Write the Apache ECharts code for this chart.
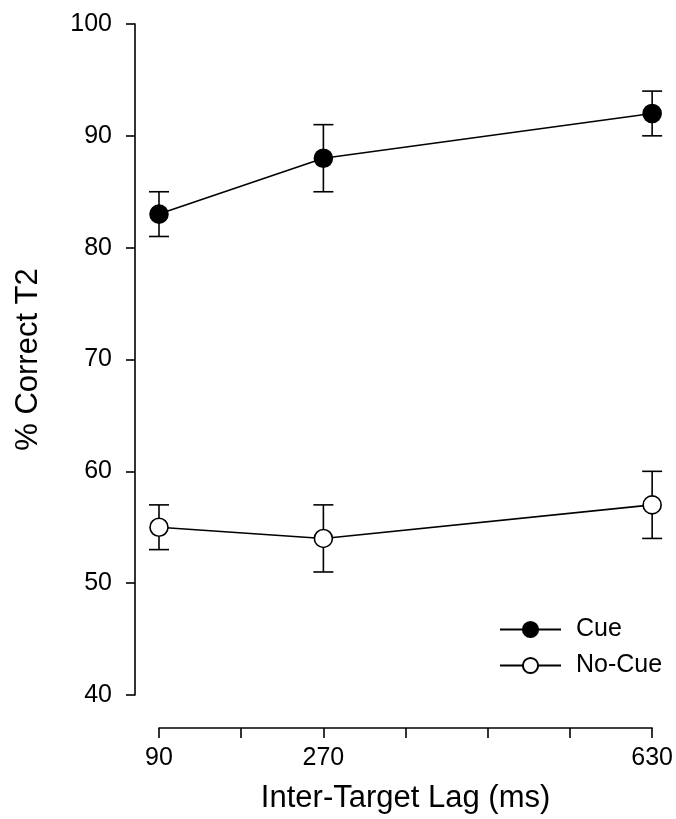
<!DOCTYPE html>
<html>
<head>
<meta charset="utf-8">
<script src="https://cdn.jsdelivr.net/npm/echarts@6/dist/echarts.min.js"></script>
<style>
  html, body { margin: 0; padding: 0; background: #fff; }
  #main { width: 676px; height: 819px; }
</style>
</head>
<body>
<div id="main"></div>
<script>
// lag values (ms) and the three labelled ticks
const lags = [90, 270, 630];
const xTickLabels = [90, 270, 630];

// % correct T2, with error bar ends
const cueMean = [83, 88, 92];
const cueLow = [81, 85, 90];
const cueHigh = [85, 91, 94];

const noCueMean = [55, 54, 57];
const noCueLow = [53, 51, 54];
const noCueHigh = [57, 57, 60];

const FONT = 'Liberation Sans, Arial, sans-serif';

function errData(low, high) {
  return lags.map((x, i) => [x, low[i], high[i]]);
}

// errorbar with caps
function renderErr(params, api) {
  const x = api.value(0);
  const lo = api.coord([x, api.value(1)]);
  const hi = api.coord([x, api.value(2)]);
  const w = 10;
  const style = { stroke: '#000', lineWidth: 1.6 };
  return {
    type: 'group',
    children: [
      { type: 'line', shape: { x1: lo[0], y1: lo[1], x2: hi[0], y2: hi[1] }, style },
      { type: 'line', shape: { x1: lo[0] - w, y1: lo[1], x2: lo[0] + w, y2: lo[1] }, style },
      { type: 'line', shape: { x1: hi[0] - w, y1: hi[1], x2: hi[0] + w, y2: hi[1] }, style }
    ]
  };
}

const myChart = echarts.init(document.getElementById('main'));
const option = {
  animation: false,
  backgroundColor: '#fff',
  grid: { left: 159, right: 19, top: 24, bottom: 122 },
  legend: {
    orient: 'vertical',
    left: 494,
    top: 612,
    itemWidth: 61,
    itemHeight: 19,
    itemGap: 11,
    textStyle: { fontFamily: FONT, fontSize: 25, color: '#000', padding: [0, 0, 0, 10] },
    data: ['Cue', 'No-Cue']
  },
  xAxis: {
    type: 'value',
    min: 90,
    max: 630,
    interval: 90,
    offset: 33,
    axisLine: { show: true, onZero: false, lineStyle: { color: '#000', width: 1.6 } },
    axisTick: { show: true, inside: false, length: 10, lineStyle: { color: '#000', width: 1.6 } },
    splitLine: { show: false },
    axisLabel: {
      margin: 18,
      fontFamily: FONT,
      fontSize: 25,
      color: '#000',
      formatter: v => (xTickLabels.indexOf(v) >= 0 ? String(v) : '')
    },
    name: 'Inter-Target Lag (ms)',
    nameLocation: 'middle',
    nameGap: 55,
    nameTextStyle: { fontFamily: FONT, fontSize: 31, color: '#000' }
  },
  yAxis: {
    type: 'value',
    min: 40,
    max: 100,
    interval: 10,
    offset: 24,
    axisLine: { show: true, onZero: false, lineStyle: { color: '#000', width: 1.6 } },
    axisTick: { show: true, inside: false, length: 9, lineStyle: { color: '#000', width: 1.6 } },
    splitLine: { show: false },
    axisLabel: { margin: 23, fontFamily: FONT, fontSize: 25, color: '#000' },
    name: '% Correct T2',
    nameLocation: 'middle',
    nameGap: 91,
    nameTextStyle: { fontFamily: FONT, fontSize: 31, color: '#000' }
  },
  series: [
    {
      type: 'custom',
      renderItem: renderErr,
      data: errData(cueLow, cueHigh),
      clip: false,
      z: 1,
      silent: true
    },
    {
      type: 'custom',
      renderItem: renderErr,
      data: errData(noCueLow, noCueHigh),
      clip: false,
      z: 1,
      silent: true
    },
    {
      name: 'Cue',
      type: 'line',
      data: lags.map((x, i) => [x, cueMean[i]]),
      symbol: 'circle',
      symbolSize: 18,
      clip: false,
      z: 3,
      lineStyle: { color: '#000', width: 1.6 },
      itemStyle: { color: '#000', borderColor: '#000', borderWidth: 1.6 }
    },
    {
      name: 'No-Cue',
      type: 'line',
      data: lags.map((x, i) => [x, noCueMean[i]]),
      symbol: 'circle',
      symbolSize: 18,
      clip: false,
      z: 3,
      lineStyle: { color: '#000', width: 1.6 },
      itemStyle: { color: '#fff', borderColor: '#000', borderWidth: 1.6 }
    }
  ]
};
myChart.setOption(option);
</script>
</body>
</html>
